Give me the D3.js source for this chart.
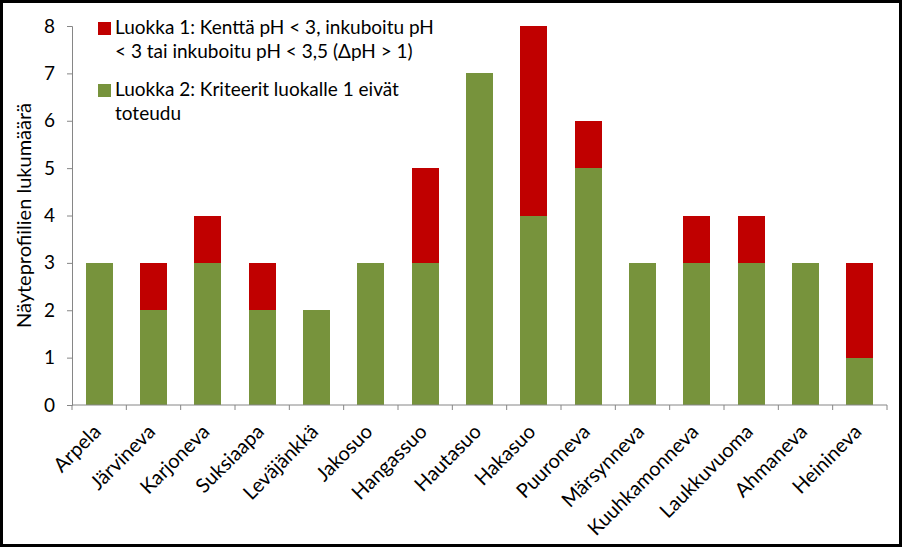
<!DOCTYPE html>
<html><head><meta charset="utf-8">
<script src="https://cdn.jsdelivr.net/npm/d3@7/dist/d3.min.js"></script>
<style>
html,body{margin:0;padding:0;background:#fff;}
svg{display:block;}
text{font-family:Lato,"Open Sans",sans-serif;fill:#000;}
</style></head><body>
<script>
const categories = ["Arpela","Järvineva","Karjoneva","Suksiaapa","Leväjänkkä","Jakosuo","Hangassuo","Hautasuo","Hakasuo","Puuroneva","Märsynneva","Kuuhkamonneva","Laukkuvuoma","Ahmaneva","Heinineva"];
const luokka2 = [3,2,3,2,2,3,3,7,4,5,3,3,3,3,1];
const luokka1 = [0,1,1,1,0,0,2,0,4,1,0,1,1,0,2];
const yTicks = [0,1,2,3,4,5,6,7,8];
const seriesNames = [
  ["Luokka 1: Kenttä pH < 3, inkuboitu pH", "< 3 tai inkuboitu pH < 3,5 (ΔpH > 1)"],
  ["Luokka 2: Kriteerit luokalle 1 eivät", "toteudu"]
];
const colors = ["#C00000", "#77933C"];
const yLabel = "Näyteprofiilien lukumäärä";

(function(){
const W = 902, H = 547;
const svg = d3.select("body").append("svg").attr("width", W).attr("height", H);
svg.append("rect").attr("x",1.5).attr("y",1.5).attr("width",W-3).attr("height",H-3)
  .attr("fill","#fff").attr("stroke","#000").attr("stroke-width",3);

const pL = 72, pR = 887, pT = 26, pB = 405;
const x = d3.scaleBand().domain(categories).range([pL, pR]).paddingInner(0.5).paddingOuter(0.25);
const y = d3.scaleLinear().domain([0, 8]).range([pB, pT]);
const R = Math.round;

const data = categories.map((c,i)=>({cat:c, g:luokka2[i], r:luokka1[i]}));

const bars = svg.append("g").attr("shape-rendering","crispEdges");
bars.selectAll("rect.g").data(data).join("rect").attr("class","g")
  .attr("x", d=>R(x(d.cat))).attr("width", R(x.bandwidth()))
  .attr("y", d=>R(y(d.g))).attr("height", d=>R(y(0))-R(y(d.g))).attr("fill", colors[1]);
bars.selectAll("rect.r").data(data.filter(d=>d.r>0)).join("rect").attr("class","r")
  .attr("x", d=>R(x(d.cat))).attr("width", R(x.bandwidth()))
  .attr("y", d=>R(y(d.g+d.r))).attr("height", d=>R(y(d.g))-R(y(d.g+d.r))).attr("fill", colors[0]);

const yAx = svg.append("g").attr("transform",`translate(${pL},0)`)
  .call(d3.axisLeft(y).tickValues(yTicks).tickSize(5).tickPadding(12));
yAx.select(".domain").attr("stroke","#868686");
yAx.selectAll(".tick line").attr("stroke","#868686");
yAx.selectAll(".tick text").style("font-size","19px").attr("fill","#000");

const xAx = svg.append("g").attr("transform",`translate(0,${pB})`);
xAx.append("line").attr("x1",pL).attr("x2",pR).attr("stroke","#868686");
const bounds = categories.map((c,i)=>pL + i*(pR-pL)/categories.length).concat([pR]);
xAx.selectAll("line.tk").data(bounds).join("line").attr("class","tk")
  .attr("x1",d=>d).attr("x2",d=>d).attr("y1",0).attr("y2",5).attr("stroke","#868686");
xAx.selectAll("text").data(categories).join("text")
  .attr("transform", d=>`translate(${x(d)+x.bandwidth()/2+3},${28}) rotate(-45)`)
  .attr("text-anchor","end").style("font-size","20px").text(d=>d);

svg.append("text").attr("transform",`translate(31,${(pT+pB)/2}) rotate(-90)`)
  .attr("text-anchor","middle").style("font-size","20px").text(yLabel);

const lg = svg.append("g");
seriesNames.forEach((lines,i)=>{
  const y0 = 22 + i*62;
  lg.append("rect").attr("x",98).attr("y",y0).attr("width",13).attr("height",13).attr("fill",colors[i]);
  lines.forEach((t,j)=>{
    lg.append("text").attr("x",115).attr("y",y0+12+j*24).style("font-size","19px").text(t);
  });
});
})();
</script>
</body></html>
